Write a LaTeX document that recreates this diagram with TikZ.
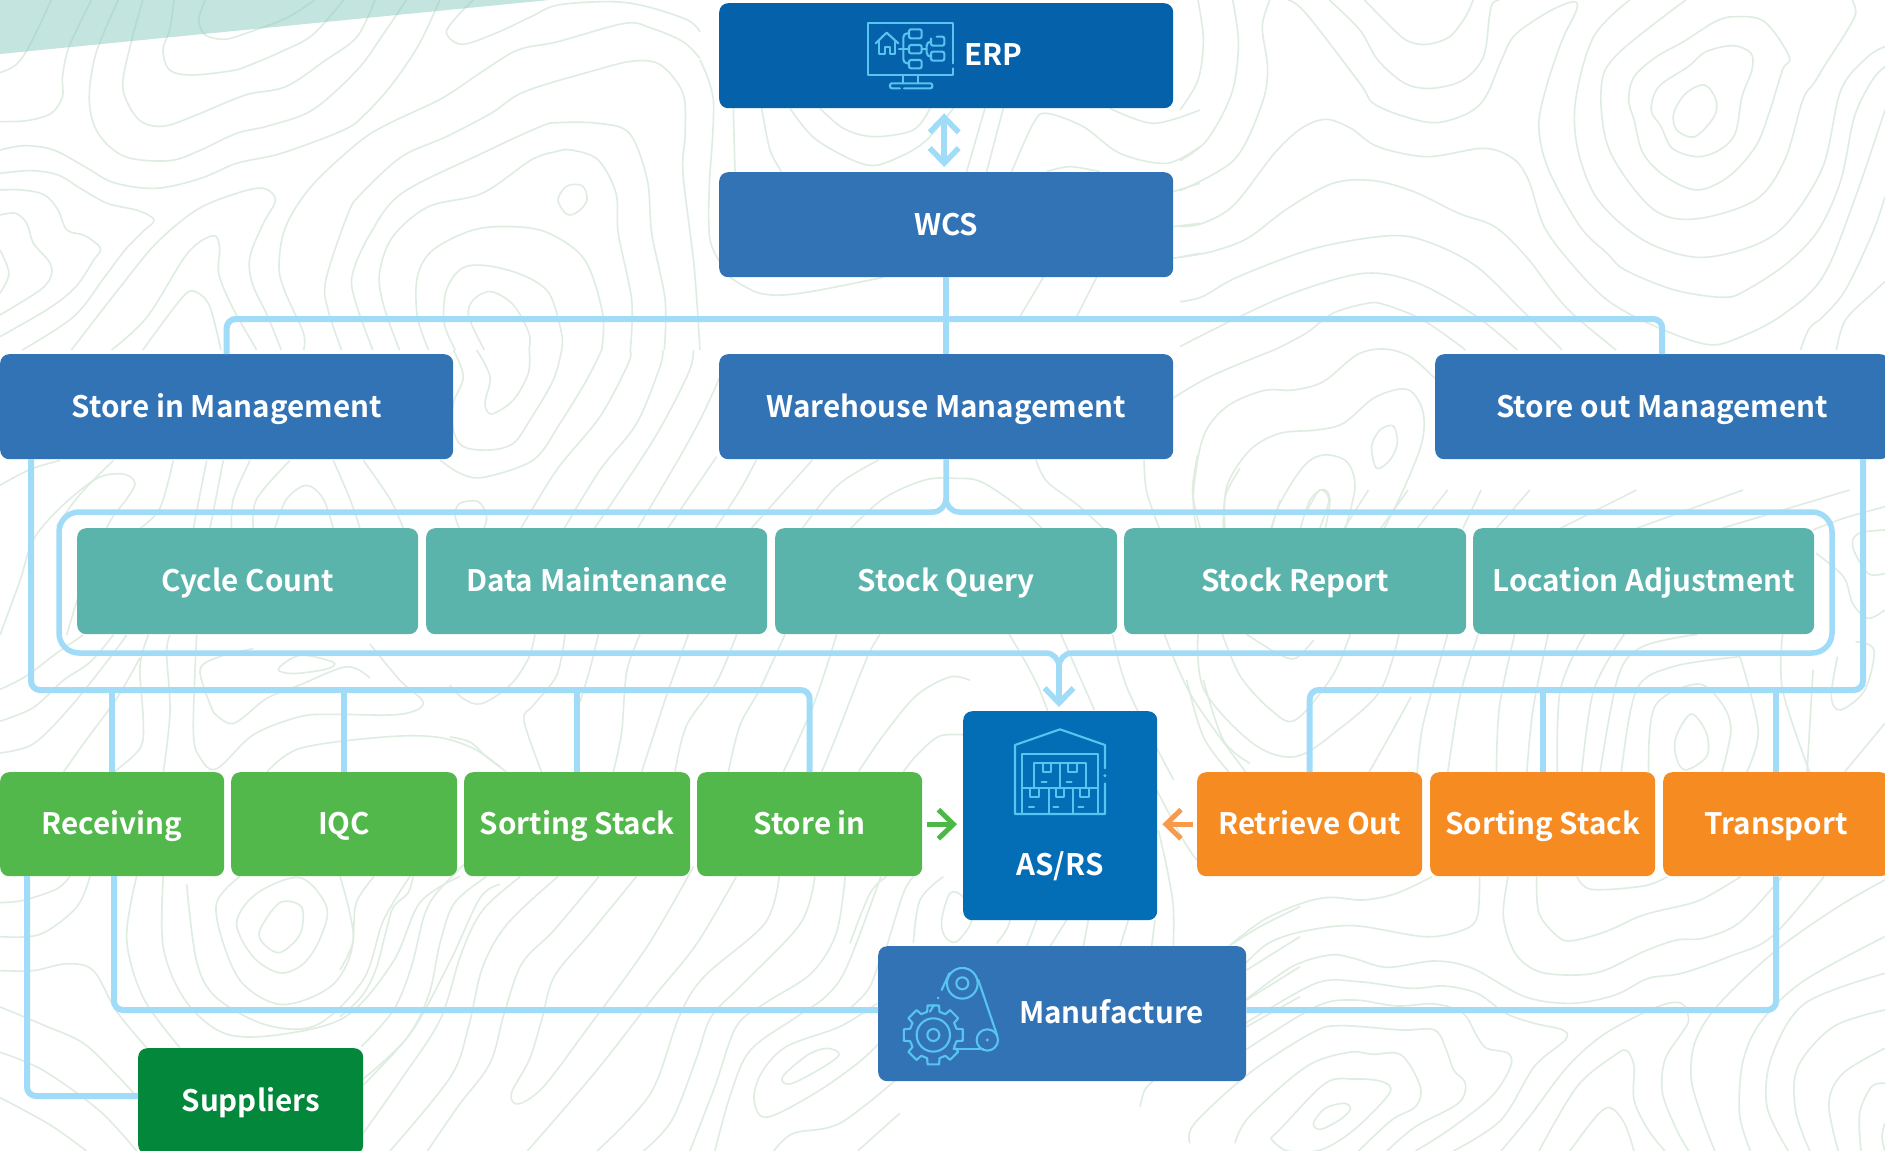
\documentclass[tikz,border=0pt]{standalone}
\usepackage{fontspec}
\setmainfont{Noto Sans CJK SC}[BoldFont=* Bold]
\usetikzlibrary{arrows.meta}
\definecolor{erpc}{HTML}{0561A9}
\definecolor{wcsc}{HTML}{3273B5}
\definecolor{tealc}{HTML}{5AB4AC}
\definecolor{greenc}{HTML}{53B84B}
\definecolor{dgreenc}{HTML}{03873A}
\definecolor{orangec}{HTML}{F68B21}
\definecolor{asrsc}{HTML}{036DB5}
\definecolor{linec}{HTML}{A0DCF8}
\definecolor{contc}{HTML}{DFEDE1}
\definecolor{iconc}{HTML}{58C4F1}
\definecolor{triac}{HTML}{8ACAC0}
\definecolor{arrg}{HTML}{4DB848}
\definecolor{arro}{HTML}{F79A4A}
\newcommand\ctr[1]{\draw[contour] plot[smooth,tension=.55] coordinates {#1};}
\newcommand\ctc[1]{\draw[contour] plot[smooth cycle,tension=.55] coordinates {#1};}
\tikzset{
  contour/.style={draw=contc,line width=1.6pt},
  lbl/.style={text=white,inner sep=0pt,text height=28pt,text depth=7pt,font=\fontsize{29.6}{34}\selectfont\bfseries},
  boxn/.style={lbl,rectangle,rounded corners=9pt,anchor=north west,align=center},
  conn/.style={draw=linec,line width=6pt,rounded corners=9pt},
  frm/.style={draw=linec,line width=5.5pt},
  iconl/.style={draw=iconc,line width=2.1pt,line join=round,line cap=round},
  barb/.style={-{Straight Barb[length=15pt,width=29pt]}},
}
\begin{document}
\begin{tikzpicture}[x=1pt,y=-1pt]
\path[clip] (0,0) rectangle (1885,1151);
\fill[white] (0,0) rectangle (1885,1151);
% ---- contours: zoom 3
\begin{scope}[xscale=.4464,yscale=.3333]
\ctr{(0,218)(35,195)(65,140)(115,0)}
\ctr{(0,365)(60,362)(115,340)(140,290)(140,230)(155,140)(205,0)}
\ctr{(0,450)(55,437)(120,450)(190,500)(255,548)(350,565)(450,535)(530,490)(630,460)(770,390)(820,340)(880,250)(940,130)(985,0)}
\ctr{(0,520)(70,512)(130,525)(180,565)(240,610)(310,632)(345,660)(320,695)(280,750)(235,830)(165,950)(50,1050)}
\ctr{(0,570)(50,570)(100,585)(130,630)(150,690)(190,707)(225,745)(210,780)(170,860)(110,925)(0,1010)}
\ctr{(0,645)(35,640)(60,670)(75,730)(110,785)(115,825)(90,870)(0,945)}
\ctr{(0,750)(20,820)(0,880)}
\ctr{(265,0)(215,160)(200,300)(220,400)(280,470)(380,482)(450,450)(530,400)(600,378)(700,330)(800,210)(860,100)(910,0)}
\ctr{(320,0)(295,120)(275,250)(290,320)(320,368)(370,378)(440,345)(550,285)(640,260)(730,180)(800,110)(840,0)}
\ctr{(390,0)(380,90)(365,150)(380,210)(430,225)(520,212)(560,195)(630,155)(700,105)(770,0)}
\ctr{(460,0)(445,60)(460,105)(500,118)(540,105)(640,55)(705,0)}
\ctr{(1060,0)(1020,55)(1000,100)(1035,133)(1110,100)(1190,50)(1250,15)(1370,5)(1450,20)(1540,60)(1568,95)}
\ctr{(160,1050)(270,860)(350,730)(440,630)(530,580)(590,565)(617,600)(590,670)(560,770)(565,850)(600,950)(630,1050)}
\ctr{(250,1050)(330,950)(420,760)(478,707)(492,745)(490,820)(520,920)(575,1050)}
\ctr{(320,1050)(410,890)(440,877)(470,920)(495,1050)}
\ctr{(680,1050)(680,1000)(640,880)(625,800)(640,680)(700,555)(810,420)(880,365)(990,295)(1080,215)(1160,150)(1250,125)(1400,70)(1460,85)(1530,125)(1568,175)}
\ctr{(765,1050)(735,930)(730,840)(780,640)(810,580)(900,470)(1000,410)(1100,340)(1175,275)(1335,210)(1420,183)(1480,195)(1530,280)(1535,400)(1530,520)(1555,800)(1568,1050)}
\ctr{(835,1050)(795,900)(790,820)(830,700)(900,580)(1080,460)(1210,380)(1250,368)(1340,370)(1410,400)(1450,540)(1460,700)(1490,900)(1488,1050)}
\ctr{(895,1050)(860,920)(850,820)(880,710)(960,620)(1080,580)(1190,480)(1245,455)(1280,450)(1340,480)(1380,580)(1385,700)(1415,900)(1412,1050)}
\ctr{(960,1050)(935,950)(935,830)(970,750)(1060,690)(1150,680)(1230,700)(1310,780)(1350,940)(1348,1050)}
\ctr{(1020,1050)(995,970)(1000,870)(1035,805)(1090,797)(1170,825)(1230,880)(1258,1000)(1258,1050)}
\ctr{(1085,1050)(1050,950)(1060,900)(1100,875)(1150,915)(1185,1000)(1185,1050)}
\ctc{(1250,600)(1270,558)(1305,558)(1315,600)(1295,635)(1270,643)}
\end{scope}
% zoom 8
\begin{scope}[shift={(440,270)},xscale=.3333,yscale=.3333]
\ctr{(40,240)(70,320)(40,400)(40,480)(70,530)(150,540)(220,520)(270,450)(340,330)(365,240)}
\ctr{(110,240)(150,320)(135,400)(155,432)(220,390)(265,310)(268,240)}
\ctr{(0,570)(60,610)(130,622)(280,570)(360,460)(440,330)(485,240)}
\ctr{(570,240)(565,280)(480,440)(350,600)(240,780)}
\ctr{(668,240)(660,290)(590,460)(480,600)(370,780)}
\ctr{(760,240)(745,310)(640,510)(460,780)}
\ctr{(840,320)(790,430)(720,560)(590,780)}
\ctr{(830,560)(680,780)}
\ctr{(60,780)(45,735)(60,700)(115,695)(140,740)(130,780)}
\end{scope}
% zoom 5
\begin{scope}[shift={(1180,0)},xscale=.4496,yscale=.3333]
\ctr{(40,0)(52,120)(40,240)(0,330)}
\ctr{(117,0)(130,130)(115,280)(60,420)(0,482)}
\ctr{(200,0)(183,80)(195,210)(180,320)(120,480)(0,572)}
\ctr{(240,0)(280,40)(400,250)(430,310)(500,350)(570,368)(640,340)(680,290)(715,180)(745,105)(820,35)(875,5)(882,30)(850,120)(815,260)(798,380)(820,510)(890,680)(950,760)(990,810)(1100,870)(1210,892)(1260,870)(1350,790)(1420,690)(1470,540)(1500,350)(1540,240)(1568,200)}
\ctr{(332,0)(400,90)(440,180)(500,250)(560,265)(630,240)(675,170)(688,50)(695,10)(710,0)}
\ctr{(410,0)(480,95)(510,125)(550,133)(600,110)(635,50)(652,0)}
\ctr{(0,680)(50,670)(120,615)(210,460)(270,385)(325,358)(380,385)(440,440)(550,470)(675,445)(740,475)(775,540)(810,680)(870,790)(950,900)(1050,975)(1170,1033)(1240,1015)(1340,945)(1430,830)(1500,600)(1568,330)}
\ctr{(0,772)(70,755)(150,715)(240,625)(340,550)(430,542)(520,575)(620,640)(700,680)(770,770)(835,885)(880,950)(970,1050)}
\ctr{(0,905)(50,890)(130,830)(300,745)(470,707)(560,730)(660,800)(760,930)(850,1050)}
\ctr{(0,1040)(110,965)(250,880)(410,820)(530,850)(660,950)(750,1050)}
\ctr{(210,1050)(280,1000)(340,940)(410,912)(450,912)(540,960)(635,1050)}
\ctr{(1000,0)(920,110)(880,300)(885,450)(930,600)(1030,720)(1150,772)(1270,740)(1350,670)(1430,500)(1470,270)(1530,170)(1568,140)}
\ctr{(1125,0)(975,160)(937,260)(955,450)(1050,625)(1145,657)(1280,600)(1345,480)(1385,300)(1410,250)(1437,190)(1480,100)(1503,40)(1495,0)}
\ctc{(1235,50)(1300,65)(1355,170)(1340,210)(1310,340)(1280,440)(1220,530)(1150,570)(1080,530)(1030,460)(1010,360)(998,300)(1010,230)(1060,170)(1120,125)(1190,65)}
\ctc{(1230,137)(1270,160)(1272,210)(1250,290)(1235,400)(1200,450)(1150,470)(1095,445)(1070,380)(1048,330)(1065,260)(1130,200)(1170,155)}
\ctc{(1167,255)(1192,300)(1188,350)(1145,410)(1105,390)(1098,340)(1125,280)}
\ctr{(1380,1050)(1400,985)(1430,950)(1480,870)(1540,700)(1568,590)}
\ctr{(1460,1050)(1480,960)(1540,880)(1568,845)}
\end{scope}
% zoom 9
\begin{scope}[shift={(1170,270)},xscale=.3333,yscale=.3333]
\ctr{(0,390)(100,330)(200,285)(312,240)}
\ctr{(80,780)(70,670)(100,500)(170,410)(280,362)(370,360)(460,335)(560,255)(640,237)(720,260)(800,330)}
\ctr{(165,780)(170,650)(240,540)(330,490)(440,480)(520,460)(610,385)(690,357)(730,370)(760,430)(755,520)(700,660)(640,780)}
\ctc{(605,530)(630,480)(670,468)(682,520)(660,570)(620,595)}
\ctr{(305,780)(330,700)(400,590)(460,555)(530,575)(555,650)(525,780)}
\ctr{(390,780)(420,690)(460,658)(480,690)(465,780)}
\end{scope}
% strip between the third row and the teal row
\begin{scope}[shift={(440,455)},xscale=.5102,yscale=.3333]
\ctr{(620,15)(590,100)(540,220)}
\ctr{(730,15)(680,100)(610,220)}
\ctr{(860,15)(780,90)(710,220)}
\ctr{(805,220)(870,130)(950,75)(1010,70)(1060,80)(1130,150)(1180,220)}
\ctr{(1168,15)(1190,80)(1250,150)(1300,220)}
\ctr{(1380,15)(1385,110)(1410,220)}
\ctr{(1485,0)(1475,110)(1490,220)}
\ctr{(1568,40)(1540,120)(1535,220)}
\end{scope}
% strip under the teal row, middle
\begin{scope}[shift={(450,632)},xscale=.3333,yscale=.3333]
\ctr{(255,8)(235,80)(180,160)(95,215)(40,200)(0,160)}
\ctr{(345,8)(320,130)(250,220)(222,265)(275,420)}
\ctr{(445,8)(420,110)(390,210)}
\ctr{(570,8)(530,120)(515,300)(490,420)}
\ctr{(715,8)(650,190)(575,420)}
\ctr{(860,8)(800,150)(710,280)(675,420)}
\ctr{(1005,8)(930,170)(870,280)(835,420)}
\ctr{(1160,8)(1090,220)(1000,420)}
\ctr{(1290,8)(1250,80)(1160,310)(1115,420)}
\ctr{(1560,145)(1500,135)(1400,190)(1300,310)(1225,420)}
\ctr{(1560,310)(1470,312)(1400,370)(1360,420)}
\ctr{(0,315)(60,330)(110,375)(170,420)}
\end{scope}
% zoom 10
\begin{scope}[shift={(930,490)},xscale=.609,yscale=.3333]
\ctr{(575,30)(560,115)}\ctr{(620,60)(640,0)(655,30)(640,115)}\ctr{(720,0)(680,115)}\ctr{(785,0)(740,115)}
\ctr{(850,0)(800,115)}\ctr{(905,0)(875,115)}\ctr{(985,0)(930,115)}\ctr{(1160,0)(1035,115)}\ctr{(1335,0)(1160,115)}\ctr{(1510,0)(1300,115)}
\ctr{(1450,120)(1500,85)(1568,50)}\ctr{(1568,120)(1525,130)(1515,170)(1540,250)(1568,250)}\ctr{(1455,190)(1500,260)(1515,340)(1540,385)(1568,360)}
\ctr{(130,433)(180,600)(230,860)}\ctr{(215,433)(270,660)}\ctr{(300,433)(325,600)(400,870)}
\ctr{(385,433)(430,620)(520,850)}\ctr{(440,433)(450,600)(530,760)(600,800)(670,720)(740,600)(770,433)}
\ctr{(480,433)(510,560)(560,660)(600,690)(660,560)(690,433)}\ctr{(520,433)(570,490)(600,505)(630,450)}
\ctr{(790,620)(760,720)(720,850)}\ctr{(850,433)(810,700)(800,850)}\ctr{(900,433)(870,620)(850,850)}\ctr{(960,433)(935,650)(930,850)}\ctr{(1015,433)(990,660)(980,850)}\ctr{(1075,433)(1035,600)(1030,850)}\ctr{(1140,433)(1090,600)(1070,850)}
\ctr{(1260,433)(1170,470)(1130,560)(1100,850)}\ctr{(1330,500)(1220,530)(1160,600)(1135,850)}
\ctr{(1180,850)(1190,650)(1260,582)(1300,640)(1315,720)(1300,850)}
\ctc{(1225,740)(1250,672)(1275,730)(1275,800)(1240,840)(1225,800)}
\ctr{(1330,500)(1360,720)(1340,850)}\ctr{(1400,433)(1400,600)(1445,850)}\ctr{(1450,540)(1440,850)}
\ctr{(1490,500)(1480,620)(1495,660)(1535,600)(1550,480)(1520,455)}\ctr{(1568,700)(1500,850)}
\end{scope}
% zoom 4
\begin{scope}[shift={(0,440)},xscale=.3333,yscale=.4535]
\ctr{(0,100)(90,65)(180,45)}
\ctr{(0,430)(60,310)(100,220)(180,150)(290,85)(370,75)(405,95)(380,130)(330,180)(260,290)(200,430)}
\ctr{(340,45)(240,120)(170,190)}\ctr{(520,45)(480,150)(420,195)}\ctr{(620,45)(580,195)}\ctr{(670,45)(630,195)}
\ctr{(750,45)(700,130)(695,195)}\ctr{(870,45)(770,130)(760,195)}\ctr{(825,195)(860,130)(920,100)(970,130)(1000,195)}
\ctr{(1000,45)(1050,130)(1080,195)}\ctr{(1090,45)(1170,130)(1210,195)}
\ctr{(0,550)(80,520)(170,470)(250,430)}\ctr{(0,620)(100,590)(190,530)(270,490)(340,430)}\ctr{(0,690)(100,670)(210,590)(330,480)(380,430)}
\ctr{(190,733)(250,670)(350,570)(420,480)}\ctr{(340,733)(420,680)(430,620)(420,500)(445,430)}\ctr{(490,733)(510,600)(500,470)(510,430)}
\ctr{(590,430)(580,640)(600,700)(650,725)(760,650)(900,610)(1000,605)(1200,605)(1270,580)(1200,530)(1110,450)}
\ctr{(640,600)(700,625)(800,570)(900,540)(1040,500)(1110,525)}\ctr{(640,600)(600,510)(650,480)(760,460)}
\ctc{(835,505)(900,475)(1000,490)(980,505)(880,515)}
\ctr{(800,733)(900,680)(1150,655)(1310,655)(1420,680)(1500,720)}
\ctc{(780,1080)(840,1020)(905,1030)(900,1090)(840,1130)(790,1110)}
\ctc{(710,1065)(770,1000)(900,965)(980,1030)(960,1100)(910,1155)(840,1175)(760,1140)}
\ctr{(720,962)(650,1020)(670,1110)(730,1200)(850,1245)(1000,1200)(1060,1100)(1020,962)}
\ctr{(560,980)(590,1150)(650,1230)(800,1290)(950,1290)(1090,1190)(1150,1060)(1230,962)}
\ctr{(490,962)(490,1120)(560,1240)(680,1310)(850,1310)(1040,1270)(1180,1150)(1260,1020)(1380,962)}
\ctr{(410,962)(380,1100)(430,1230)(540,1340)}
\ctr{(0,1020)(70,1015)(170,990)(210,962)}\ctr{(0,1095)(120,1090)(230,1030)(270,962)}
\ctr{(0,1170)(100,1170)(200,1155)(280,1170)(350,1260)(440,1340)}
\ctr{(0,1250)(130,1290)(250,1330)(350,1400)(413,1450)}\ctr{(0,1350)(130,1390)(300,1480)(410,1568)}\ctr{(0,1450)(150,1510)(260,1568)}
\ctr{(1088,1410)(1230,1310)(1350,1150)(1440,1010)(1500,980)}
\end{scope}
% zoom 7
\begin{scope}[shift={(340,860)},xscale=.357,yscale=.3333]
\ctr{(0,330)(35,250)(45,130)(95,50)}\ctr{(205,50)(190,100)(150,140)(130,210)(100,330)(60,410)(0,470)}
\ctr{(350,10)(270,100)(235,170)(200,320)(150,450)(60,560)}\ctr{(410,50)(320,130)(280,250)(250,400)(190,530)(65,675)}
\ctr{(505,50)(400,150)(340,280)(280,480)(170,660)(65,820)}\ctr{(610,50)(470,190)(400,320)(360,500)(310,650)(140,873)}
\ctr{(725,50)(600,210)(510,310)(460,460)(420,610)(330,740)(245,873)}
\ctr{(830,50)(700,220)(600,350)(565,480)(530,600)(480,700)(500,732)(570,680)(690,510)(860,260)(990,20)}
\ctr{(1110,50)(1000,250)(880,410)(720,630)(525,873)}\ctr{(1230,50)(1190,190)(1020,350)(950,470)(870,700)(720,873)}
\ctr{(1330,50)(1290,190)(1130,370)(1040,470)(1000,590)(930,780)(850,873)}\ctr{(1415,50)(1390,220)(1320,340)(1190,430)(1110,500)(1050,680)(980,873)}
\ctr{(1515,50)(1420,320)(1360,410)(1280,470)(1150,570)(1095,700)(1050,873)}
\ctr{(1505,430)(1400,500)(1250,560)(1180,640)(1160,720)(1195,772)(1330,700)(1450,610)(1510,550)}
\ctc{(1240,650)(1310,585)(1365,565)(1398,585)(1340,630)(1260,672)}
\ctr{(1568,650)(1400,790)(1270,820)(1215,873)}\ctr{(1568,760)(1450,873)}
\end{scope}
% zoom 6
\begin{scope}[shift={(1140,860)},xscale=.475,yscale=.3333]
\ctr{(615,50)(540,100)(470,120)(400,112)(340,130)(260,180)(190,255)}
\ctr{(715,50)(710,170)(680,210)(600,230)(450,197)(340,215)(270,250)(222,310)}
\ctr{(775,50)(765,170)(790,280)(840,335)(920,345)(980,330)(1060,275)(1130,240)(1185,235)(1260,190)(1340,70)(1350,50)}
\ctr{(835,50)(840,160)(880,230)(910,242)(980,215)(1060,165)(1160,130)(1200,105)(1265,50)}
\ctr{(920,50)(950,88)(1060,78)(1110,50)}
\ctr{(222,420)(320,320)(400,285)(450,295)(520,322)(620,303)(700,325)(810,410)(910,430)(1000,405)(1070,355)(1140,340)(1240,290)(1330,230)(1440,50)}
\ctr{(222,490)(370,370)(460,365)(570,385)(640,378)(710,400)(770,460)(830,490)(890,510)(895,540)(830,620)(760,780)(660,873)}
\ctr{(222,570)(370,440)(450,420)(540,438)(620,432)(680,460)(710,530)(730,565)(775,580)(780,620)(740,710)(650,810)(580,873)}
\ctr{(105,850)(115,790)(230,640)(360,520)(420,497)(550,510)(620,510)(645,570)(660,630)(685,670)(670,730)(580,800)(520,873)}
\ctr{(200,850)(230,770)(350,620)(440,577)(490,583)(550,585)(590,680)(580,740)(530,780)(460,873)}
\ctr{(275,835)(300,800)(390,670)(450,657)(510,665)(525,700)(450,810)(380,870)(310,873)(275,835)}
\ctc{(365,790)(390,745)(430,730)(443,748)(420,780)(380,808)}
\ctr{(760,873)(820,770)(900,620)(980,520)(1090,440)(1140,430)(1155,480)(1140,520)(1105,600)(1100,700)(1130,810)(1155,873)}
\ctr{(840,873)(920,680)(1000,585)(1025,572)(1040,620)(1040,720)(1070,810)(1105,873)}
\ctr{(905,873)(960,770)(990,743)(1020,790)(1040,873)}
\ctr{(1210,873)(1180,760)(1160,650)(1170,540)(1220,430)(1340,270)(1470,140)(1568,60)}
\ctr{(1285,873)(1262,760)(1270,600)(1310,480)(1400,360)(1568,230)}
\ctr{(1365,873)(1320,740)(1330,590)(1400,430)(1568,340)}
\ctr{(1410,873)(1380,750)(1385,620)(1460,500)(1568,450)}
\ctr{(1470,873)(1450,730)(1480,640)(1568,565)}
\ctr{(1518,873)(1515,760)(1540,680)(1568,670)}
\ctr{(1568,790)(1562,830)(1568,873)}
\ctr{(0,740)(10,690)(30,660)}
\end{scope}
% zoom 2
\begin{scope}[shift={(850,680)},xscale=.3333,yscale=.3333]
\ctr{(0,790)(60,640)(110,590)}\ctr{(110,800)(160,640)(190,590)}\ctr{(190,790)(210,660)(280,590)}
\ctc{(275,720)(300,640)(338,650)(365,720)(320,785)(285,770)}
\ctr{(440,790)(480,720)(440,640)}\ctr{(530,800)(560,720)}\ctr{(600,800)(650,720)}\ctr{(700,800)(715,720)}\ctr{(810,800)(835,720)}\ctr{(905,800)(915,720)}
\ctr{(970,800)(970,680)(950,560)(925,450)}\ctr{(920,330)(1000,480)(1040,540)}
\ctr{(1135,800)(1230,740)(1350,680)}\ctr{(1190,870)(1350,770)}\ctr{(1190,960)(1350,860)}\ctr{(1190,1040)(1350,950)}
\ctr{(1010,0)(1060,170)(1140,280)}\ctr{(1060,0)(1120,180)(1200,250)}\ctr{(0,985)(60,920)(100,800)}
\end{scope}
% zoom 1 and strip
\begin{scope}[shift={(700,0)},xscale=.3333,yscale=.3333]
\ctr{(100,325)(105,515)}\ctr{(185,325)(210,450)(245,515)}\ctr{(270,325)(350,420)(500,495)(600,470)(680,420)(760,325)}
\ctr{(360,325)(430,385)(520,410)(640,390)(690,325)}\ctr{(855,325)(800,515)}\ctr{(910,325)(860,515)}
\ctr{(935,515)(1000,370)(1040,340)(1150,380)(1260,460)(1400,490)(1500,440)}\ctr{(1230,325)(1360,370)(1500,330)}
\ctr{(30,515)(40,300)(0,180)}\ctr{(1420,575)(1500,550)}\ctr{(1420,680)(1500,670)}\ctr{(1420,775)(1500,760)}
\ctr{(90,832)(180,880)(300,880)(550,832)}\ctr{(1040,515)(1110,500)(1200,515)}
\ctr{(30,515)(30,720)(90,830)}\ctr{(1190,832)(1130,950)}\ctr{(1030,832)(960,950)}
\end{scope}
% triangle
\fill[triac,opacity=.5] (0,0) -- (0,54) -- (549,0) -- cycle;
% ---- nodes
\node[boxn,fill=erpc,minimum width=454pt,minimum height=105pt] (erp) at (719,3) {};
\node[lbl,anchor=west] (erpl) at (964,55) {ERP};
\node[boxn,fill=wcsc,minimum width=454pt,minimum height=105pt] (wcs) at (719,172) {WCS};
\node[boxn,fill=wcsc,minimum width=453pt,minimum height=105pt] (sin) at (0,354) {Store in Management};
\node[boxn,fill=wcsc,minimum width=454pt,minimum height=105pt] (wm) at (719,354) {Warehouse Management};
\node[boxn,fill=wcsc,minimum width=454pt,minimum height=105pt] (sout) at (1435,354) {Store out Management};
\node[boxn,fill=tealc,minimum width=341pt,minimum height=106pt] (t1) at (77,528) {Cycle Count};
\node[boxn,fill=tealc,minimum width=341pt,minimum height=106pt] (t2) at (426,528) {Data Maintenance};
\node[boxn,fill=tealc,minimum width=342pt,minimum height=106pt] (t3) at (775,528) {Stock Query};
\node[boxn,fill=tealc,minimum width=342pt,minimum height=106pt] (t4) at (1124,528) {Stock Report};
\node[boxn,fill=tealc,minimum width=341pt,minimum height=106pt] (t5) at (1473,528) {Location Adjustment};
\node[boxn,fill=greenc,minimum width=224pt,minimum height=104pt] (g1) at (0,772) {Receiving};
\node[boxn,fill=greenc,minimum width=226pt,minimum height=104pt] (g2) at (231,772) {IQC};
\node[boxn,fill=greenc,minimum width=226pt,minimum height=104pt] (g3) at (464,772) {Sorting Stack};
\node[boxn,fill=greenc,minimum width=225pt,minimum height=104pt] (g4) at (697,772) {Store in};
\node[boxn,fill=asrsc,minimum width=194pt,minimum height=209pt] (asrs) at (963,711) {};
\node[lbl] (asrsl) at (1060,865) {AS/RS};
\node[boxn,fill=orangec,minimum width=225pt,minimum height=104pt] (o1) at (1197,772) {Retrieve Out};
\node[boxn,fill=orangec,minimum width=225pt,minimum height=104pt] (o2) at (1430,772) {Sorting Stack};
\node[boxn,fill=orangec,minimum width=226pt,minimum height=104pt] (o3) at (1663,772) {Transport};
\node[boxn,fill=wcsc,minimum width=368pt,minimum height=135pt] (mf) at (878,946) {};
\node[lbl,anchor=west] (mfl) at (1019,1013) {Manufacture};
\node[boxn,fill=dgreenc,minimum width=225pt,minimum height=106pt] (sup) at (138,1048) {Suppliers};
% ---- connectors
\coordinate (busT) at (946,319);
\coordinate (sinA) at (31,459);
\coordinate (busL) at (31,690);
\coordinate (soutA) at (1863,459);
\coordinate (busR) at (1863,690);
\coordinate (mfy) at (878,1010);
\coordinate (g1a) at (114,876);
\coordinate (g1b) at (27,876);
\coordinate (supj) at (27,1096);
\coordinate (j1) at (946,498);
\coordinate (j2) at (1059,667);
\coordinate (asTop) at (1059,711);
\draw[conn,rounded corners=0] (wcs.south) -- (wm.north);
\draw[conn] (sin.north) -- (sin.north |- busT) -- (sout.north |- busT) -- (sout.north);
\draw[conn] (sinA) -- (busL) -- (g4.north |- busL) -- (g4.north);
\draw[conn,rounded corners=0] (g1.north) -- (g1.north |- busL);
\draw[conn,rounded corners=0] (g2.north) -- (g2.north |- busL);
\draw[conn,rounded corners=0] (g3.north) -- (g3.north |- busL);
\draw[conn] (soutA) -- (busR) -- (o1.north |- busR) -- (o1.north);
\draw[conn,rounded corners=0] (o2.north) -- (o2.north |- busR);
\draw[conn,rounded corners=0] (o3.north) -- (o3.north |- busR);
\draw[conn] (g1a) -- (g1a |- mfy) -- (mfy);
\draw[conn] (mf.east |- mfy) -- (o3.south |- mfy) -- (o3.south);
\draw[conn] (g1b) -- (supj) -- (sup.west |- supj);
% enclosure
\draw[frm] (wm.south) -- (j1);
\draw[frm] (j1) to[out=-90,in=0] ++(-13,14) [rounded corners=20pt] -- (59,512) -- (59,653) [sharp corners] -- (1046,653);
\draw[frm] (j1) to[out=-90,in=180] ++(13,14) [rounded corners=20pt] -- (1832,512) -- (1832,653) [sharp corners] -- (1072,653);
\draw[frm] (1046,653) to[out=0,in=90] (j2);
\draw[frm] (1072,653) to[out=180,in=90] (j2);
\draw[frm,barb,shorten >=4pt] (j2) -- (asTop);
\draw[frm,{Straight Barb[length=15pt,width=29pt]}-{Straight Barb[length=15pt,width=29pt]},shorten >=5pt,shorten <=5pt] ([xshift=-2pt]erp.south) -- ([xshift=-2pt]wcs.north);
\draw[draw=arrg,line width=5pt,barb,shorten <=5pt,shorten >=6pt] (g4.east) -- (g4.east -| asrs.west);
\draw[draw=arro,line width=5pt,barb,shorten <=4pt,shorten >=5pt] (o1.west) -- (o1.west -| asrs.east);
% ---- icons
\begin{scope}[shift={(700,0)},xscale=.3333,yscale=.3333]
\draw[iconl] (760,190)--(760,70)--(505,70)--(505,225)--(760,225)--(760,205);
\draw[iconl] (610,225)--(610,250) (655,225)--(655,250);
\draw[iconl,rounded corners=2pt] (600,265)--(570,265)--(570,250)--(697,250)--(697,265)--(612,265);
\draw[iconl] (527,130)--(560,98)--(595,130);
\draw[iconl] (538,125)--(538,162)--(555,162)--(555,140)--(570,140)--(570,162)--(585,162)--(585,125);
\draw[iconl,rounded corners=2pt] (627,88) rectangle (665,115) (627,135) rectangle (665,160) (627,180) rectangle (665,205) (693,155) rectangle (733,182);
\draw[iconl,rounded corners=2pt] (710,110)--(733,110)--(733,137)--(693,137)--(693,115);
\draw[iconl,rounded corners=4pt] (627,100)--(610,100)--(610,190)--(627,190);
\draw[iconl] (597,147)--(627,147) (665,147)--(680,147);
\draw[iconl,rounded corners=4pt] (693,125)--(680,125)--(680,170)--(693,170);
\end{scope}
\begin{scope}[shift={(850,680)},xscale=.3333,yscale=.3333]
\draw[iconl] (765,265)--(765,195)--(630,148)--(495,195)--(495,402)--(765,402)--(765,310);
\fill[iconc] (765,287) circle (5);
\draw[iconl] (515,402)--(515,222)--(745,222)--(745,402);
\draw[iconl] (515,325)--(745,325);
\draw[iconl] (553,325)--(553,250)--(708,250)--(708,325) (630,250)--(630,325);
\draw[iconl] (580,250)--(580,275)--(603,275)--(603,250) (655,250)--(655,275)--(680,275)--(680,250);
\draw[iconl] (575,305)--(590,305) (650,305)--(665,305);
\draw[iconl] (597,325)--(597,402) (670,325)--(670,402);
\draw[iconl] (540,325)--(540,350)--(568,350)--(568,325) (617,325)--(617,350)--(643,350)--(643,325) (690,325)--(690,350)--(717,350)--(717,325);
\draw[iconl] (537,380)--(552,380) (610,380)--(625,380) (685,380)--(700,380);
\draw[iconl] (337,910) circle (46);
\draw[iconl] (337,910) circle (18);
\draw[iconl] (385,900)--(441,1065);
\draw[iconl] (412,1080) circle (32);
\fill[iconc] (412,1080) circle (5);
\draw[iconl] (400,1108)--(310,1108);
\draw[iconl] (298,880)--(275,930);
\draw[iconl] (265,953)--(264,955) (252,975)--(240,995);
\draw[iconl] (250,1065) circle (50) (250,1065) circle (18);
\foreach \a in {0,45,...,315}{
\draw[iconl] ([shift={(250,1065)}]\a-11:90)--([shift={(250,1065)}]\a+11:90)--([shift={(250,1065)}]\a+15:72)--([shift={(250,1065)}]\a+30:72)--([shift={(250,1065)}]\a+34:90);
}
\end{scope}
\end{tikzpicture}
\end{document}
